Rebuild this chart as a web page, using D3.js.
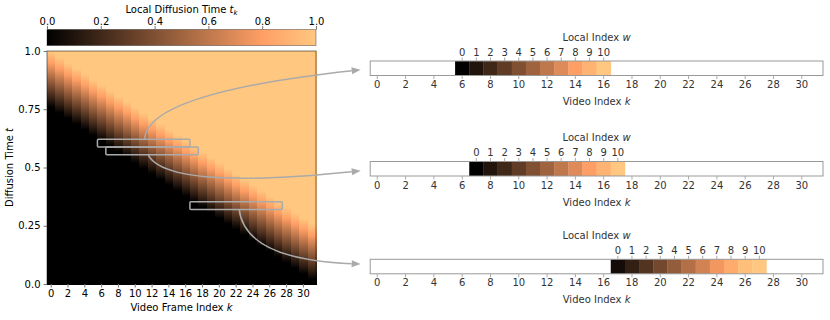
<!DOCTYPE html>
<html>
<head>
<meta charset="utf-8">
<script src="https://cdn.jsdelivr.net/npm/d3@7"></script>
<style>
  body { margin: 0; background: #fff; }
  text { font-family: "DejaVu Sans", sans-serif; }
</style>
</head>
<body>
<script>
// data
const FRAMES = d3.range(0, 32);          // video frame index k
const WINDOW = 10;                       // window length (local index w = 0..10)
const FRAME_TICKS = d3.range(0, 32, 2);
const T_TICKS = [0, 0.25, 0.5, 0.75, 1.0];
const T_LABELS = ['0.0', '0.25', '0.5', '0.75', '1.0'];
const CBAR_TICKS = [0, 0.2, 0.4, 0.6, 0.8, 1.0];
const CBAR_LABELS = ['0.0', '0.2', '0.4', '0.6', '0.8', '1.0'];
const LOCAL_IDX = d3.range(0, 11);

// highlighted windows: first frame of window and diffusion time (top of box)
const BOX_START = [6, 7, 17];
const BOX_T = [0.621, 0.588, 0.353];
const BOX_DT = 0.033;

// local diffusion time of each window cell (right panels)
const PANEL1 = [0, 0.1, 0.2, 0.3, 0.4, 0.5, 0.6, 0.7, 0.8, 0.9, 1.0];
const PANEL2 = [0, 0.1, 0.2, 0.3, 0.4, 0.5, 0.6, 0.7, 0.8, 0.9, 1.0];
const PANEL3 = [0.06, 0.16, 0.26, 0.36, 0.46, 0.56, 0.66, 0.76, 0.86, 0.96, 1.0];
const PANELS = [PANEL1, PANEL2, PANEL3];

// rolling schedule: local time of frame k at global time t
function localTime(k, t) {
  const s = (1 - t) * (FRAMES.length + WINDOW) - WINDOW;
  return Math.max(0, Math.min(1, (k - s) / WINDOW));
}

// matplotlib "copper"
function copper(v) {
  return d3.rgb(Math.min(255, 255 * 1.25 * v), 255 * 0.7812 * v, 255 * 0.4975 * v).toString();
}

const W = 830, H = 320;
const FS = 10;
const GRAY = '#aaaaaa';

const svg = d3.select('body').append('svg')
  .attr('width', W).attr('height', H);

const defs = svg.append('defs');

// ---------- heatmap ----------
const hx = d3.scaleBand().domain(FRAMES).range([47, 316]);
const hy = d3.scaleLinear().domain([0, 1]).range([284, 51]);

const ROWS = 233;
const tRows = d3.range(0, ROWS).map(i => i / ROWS);
const cells = [];
FRAMES.forEach(k => tRows.forEach(t => cells.push({k: k, t: t})));

const heat = svg.append('g').attr('shape-rendering', 'crispEdges');
heat.selectAll('rect')
  .data(cells)
  .enter()
  .append('rect')
  .attr('x', d => hx(d.k))
  .attr('y', d => hy(d.t + 1 / ROWS))
  .attr('width', hx.bandwidth() + 1)
  .attr('height', hy(0) - hy(1 / ROWS) + 1)
  .attr('fill', d => copper(localTime(d.k, d.t + 0.5 / ROWS)));

// frame
svg.append('rect')
  .attr('x', 47).attr('y', 51)
  .attr('width', 269).attr('height', 233)
  .attr('fill', 'none')
  .attr('stroke', 'rgba(0,0,0,0.5)')
  .attr('stroke-width', 1);

// highlighted boxes
svg.selectAll('.box')
  .data(BOX_START)
  .enter()
  .append('rect')
  .attr('class', 'box')
  .attr('x', d => hx(d))
  .attr('y', (d, i) => hy(BOX_T[i]))
  .attr('width', hx.step() * (WINDOW + 1))
  .attr('height', (d, i) => hy(BOX_T[i] - BOX_DT) - hy(BOX_T[i]))
  .attr('rx', 1)
  .attr('fill', 'none')
  .attr('stroke', GRAY)
  .attr('stroke-width', 1.5);

function styleAxis(g, lineColor, textColor) {
  g.select('.domain').remove();
  g.selectAll('.tick line').attr('stroke', lineColor);
  g.selectAll('.tick text')
    .attr('fill', textColor)
    .style('font-size', FS + 'px')
    .style('font-family', '"DejaVu Sans", sans-serif');
}

svg.append('g')
  .attr('transform', 'translate(47,0)')
  .call(d3.axisLeft(hy).tickValues(T_TICKS).tickFormat((d, i) => T_LABELS[i]).tickSize(3.5).tickPadding(3))
  .call(g => styleAxis(g, '#777', '#000'));

svg.append('g')
  .attr('transform', 'translate(0,284)')
  .call(d3.axisBottom(hx).tickValues(FRAME_TICKS).tickSize(3.5).tickPadding(2))
  .call(g => styleAxis(g, '#777', '#000'));

const yl = svg.append('text')
  .attr('transform', 'translate(13,167.5) rotate(-90)')
  .attr('text-anchor', 'middle')
  .style('font-size', FS + 'px');
yl.append('tspan').text('Diffusion Time ');
yl.append('tspan').style('font-style', 'italic').text('t');

const xl = svg.append('text')
  .attr('x', 181.5).attr('y', 310.5)
  .attr('text-anchor', 'middle')
  .style('font-size', FS + 'px');
xl.append('tspan').text('Video Frame Index ');
xl.append('tspan').style('font-style', 'italic').text('k');

// ---------- colorbar ----------
const cx = d3.scaleLinear().domain([0, 1]).range([47, 316]);
const grad = defs.append('linearGradient').attr('id', 'cbar');
d3.range(0, 1.0001, 0.05).forEach(v => {
  grad.append('stop').attr('offset', v).attr('stop-color', copper(v));
});
svg.append('rect')
  .attr('x', 47).attr('y', 29.5)
  .attr('width', 269).attr('height', 16)
  .attr('fill', 'url(#cbar)')
  .attr('stroke', 'rgba(0,0,0,0.35)')
  .attr('stroke-width', 1);

svg.append('g')
  .attr('transform', 'translate(0,29.5)')
  .call(d3.axisTop(cx).tickValues(CBAR_TICKS).tickFormat((d, i) => CBAR_LABELS[i]).tickSize(3.5).tickPadding(1))
  .call(g => styleAxis(g, '#777', '#000'));

const ct = svg.append('text')
  .attr('x', 181.5).attr('y', 13)
  .attr('text-anchor', 'middle')
  .style('font-size', FS + 'px');
ct.append('tspan').text('Local Diffusion Time ');
ct.append('tspan').style('font-style', 'italic').text('t');
ct.append('tspan').style('font-style', 'italic').style('font-size', '7px').attr('dy', 2).text('k');

// ---------- right panels ----------
const px = d3.scaleBand().domain(FRAMES).range([370.2, 823]);
const PANEL_TOP = [61, 161.5, 259.3];
const BAR_H = 14.5;
const TXT = '#333';

PANELS.forEach((vals, p) => {
  const g = svg.append('g').attr('transform', `translate(0,${PANEL_TOP[p]})`);
  const start = BOX_START[p];

  g.append('rect')
    .attr('x', px.range()[0]).attr('y', 0)
    .attr('width', px.range()[1] - px.range()[0]).attr('height', BAR_H)
    .attr('fill', '#fff');

  g.selectAll('.cell')
    .data(vals)
    .enter()
    .append('rect')
    .attr('class', 'cell')
    .attr('x', (d, w) => px(start + w))
    .attr('y', 0)
    .attr('width', px.bandwidth() + 0.3)
    .attr('height', BAR_H)
    .attr('fill', d => copper(d));

  g.append('rect')
    .attr('x', px.range()[0]).attr('y', 0)
    .attr('width', px.range()[1] - px.range()[0]).attr('height', BAR_H)
    .attr('fill', 'none')
    .attr('stroke', '#999')
    .attr('stroke-width', 1);

  g.append('g')
    .attr('transform', `translate(0,${BAR_H})`)
    .call(d3.axisBottom(px).tickValues(FRAME_TICKS).tickSize(3.5).tickPadding(2))
    .call(a => styleAxis(a, '#aaa', TXT));

  g.append('g')
    .call(d3.axisTop(px).tickValues(LOCAL_IDX.map(w => start + w)).tickFormat(k => k - start).tickSize(3.5).tickPadding(2))
    .call(a => styleAxis(a, '#aaa', TXT));

  const mid = (px.range()[0] + px.range()[1]) / 2;
  const t1 = g.append('text')
    .attr('x', mid).attr('y', -20.5)
    .attr('text-anchor', 'middle')
    .attr('fill', TXT)
    .style('font-size', FS + 'px');
  t1.append('tspan').text('Local Index ');
  t1.append('tspan').style('font-style', 'italic').text('w');

  const t2 = g.append('text')
    .attr('x', mid).attr('y', BAR_H + 29.5)
    .attr('text-anchor', 'middle')
    .attr('fill', TXT)
    .style('font-size', FS + 'px');
  t2.append('tspan').text('Video Index ');
  t2.append('tspan').style('font-style', 'italic').text('k');
});

// ---------- connectors ----------
const ARROW_LEN = 9, ARROW_W = 7;
const CONN = [
  {from: 'top',    dx: 1,  ctrl: [2, 46],  tipDy: 1.5},
  {from: 'bottom', dx: -4, ctrl: [18, 36], tipDy: 2},
  {from: 'bottom', dx: 3,  ctrl: [6, 50],  tipDy: -2.5}
];

CONN.forEach((c, i) => {
  const x0 = hx(BOX_START[i]) + hx.step() * (WINDOW + 1) / 2 + c.dx;
  const y0 = c.from === 'top' ? hy(BOX_T[i]) : hy(BOX_T[i] - BOX_DT);
  const tipX = px.range()[0] - 9.5;
  const tipY = PANEL_TOP[i] + BAR_H / 2 + c.tipDy;
  const cxp = x0 + c.ctrl[0];
  const cyp = c.from === 'top' ? y0 - c.ctrl[1] : y0 + c.ctrl[1];
  const ang = Math.atan2(tipY - cyp, tipX - cxp);
  const bx = tipX - ARROW_LEN * Math.cos(ang);
  const by = tipY - ARROW_LEN * Math.sin(ang);

  const path = d3.path();
  path.moveTo(x0, y0);
  path.quadraticCurveTo(cxp, cyp, bx, by);
  svg.append('path')
    .attr('d', path.toString())
    .attr('fill', 'none')
    .attr('stroke', GRAY)
    .attr('stroke-width', 1.5);

  const nx = -Math.sin(ang), ny = Math.cos(ang);
  svg.append('path')
    .attr('d', `M${tipX},${tipY} L${bx + nx * ARROW_W / 2},${by + ny * ARROW_W / 2} L${bx - nx * ARROW_W / 2},${by - ny * ARROW_W / 2} Z`)
    .attr('fill', GRAY);
});
</script>
</body>
</html>
